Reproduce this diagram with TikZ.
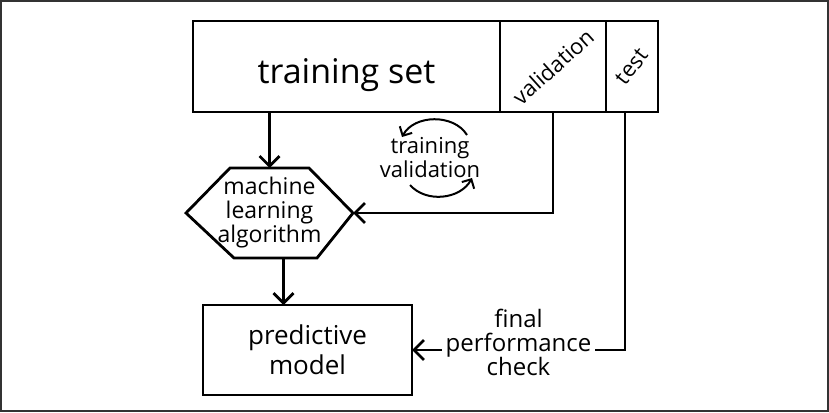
\documentclass[tikz,border=0pt]{standalone}
\usepackage{fontspec}
\setmainfont{Open Sans}
\usetikzlibrary{arrows.meta,positioning}

\begin{document}
\begin{tikzpicture}[
    x=0.5pt, y=-0.5pt,
    line width=1.4pt,
    every node/.style={align=center, outer sep=0pt},
    box/.style={draw, rectangle, minimum height=45.5pt},
    flow/.style={-{Straight Barb[length=5pt,width=10pt]}},
    loop/.style={-{Straight Barb[length=3.5pt,width=7pt]}, line width=1pt},
    ]
  \useasboundingbox (0,0) rectangle (829,412);
  \draw[black!80, line width=1pt] (1,1) rectangle (828,411); % frame
  % data split
  \node[box, minimum width=153.5pt, text height=21pt, text depth=3.7pt, font=\fontsize{17}{20}\selectfont] (trainset) at (346.5,66.5) {training set};
  \node[box, minimum width=53pt, right=0pt of trainset] (valset) {};
  \node[box, minimum width=26pt, right=0pt of valset] (testset) {};
  \node[rotate=42, inner sep=1pt, font=\fontsize{11}{13}\selectfont] (valtext) at (valset) {validation};
  \node[rotate=52, inner sep=1pt, font=\fontsize{11}{13}\selectfont] (testtext) at (testset) {test};
  % learning
  \node[minimum width=83.5pt, minimum height=45pt, font=\fontsize{11.5}{12}\selectfont] (mla) at (269.5,213) {machine\\learning\\algorithm};
  \draw (mla.west) -- ([xshift=22pt]mla.north west) -- ([xshift=-22pt]mla.north east)
    -- (mla.east) -- ([xshift=-18pt]mla.south east) -- ([xshift=24pt]mla.south west) -- cycle;
  \node[box, minimum width=104.5pt, minimum height=45pt, font=\fontsize{13}{15}\selectfont] (model) at (307.5,350) {predictive\\model};
  \node[font=\fontsize{11}{10.5}\selectfont] (tvloop) at (430,158) {training\\validation};
  % connectors
  \draw[flow] (mla.north |- trainset.south) -- (mla.north);
  \draw[flow] (valset.south) |- (mla.east);
  \draw[flow] ([xshift=7pt]mla.south) -- ([xshift=7pt]mla.south |- model.north);
  \draw[flow] ([xshift=-3.5pt]testset.south) |- node[pos=0.75, fill=white, yshift=4pt, inner sep=2pt, font=\fontsize{12}{12}\selectfont] (check) {final\\performance\\check} (model.east);
  \draw[loop] ([shift={(37,-23)}]tvloop.center) to[bend right=60] ([shift={(-28,-21)}]tvloop.center);
  \draw[loop] ([shift={(-20,27)}]tvloop.center) to[bend right=55] ([shift={(42,20)}]tvloop.center);
\end{tikzpicture}
\end{document}
